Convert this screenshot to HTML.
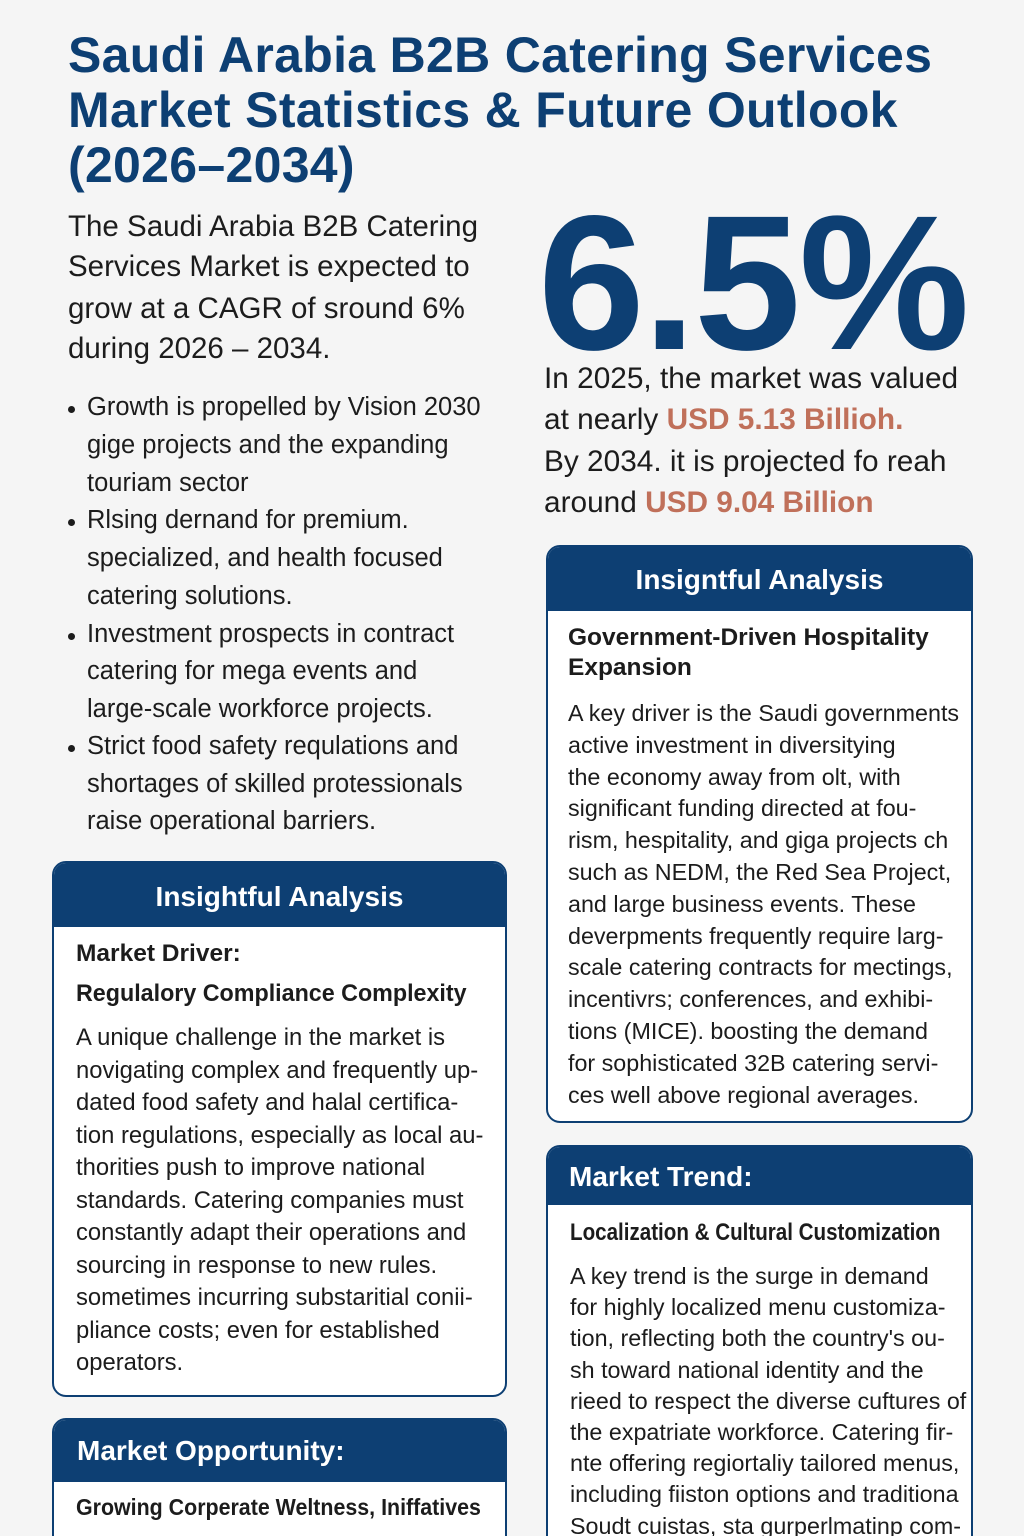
<!DOCTYPE html>
<html><head><meta charset="utf-8"><style>
*{margin:0;padding:0;box-sizing:border-box}
html,body{width:1024px;height:1536px;overflow:hidden;background:#f5f5f5}
#w{position:relative;width:1024px;height:1536px;overflow:hidden;background:#f5f5f5;font-family:"Liberation Sans",sans-serif;color:#1c1c1c}
.a{position:absolute;white-space:nowrap}
.t{color:#0d3f73;font-weight:bold;font-size:50px;left:68px;letter-spacing:0.3px}
.p{font-size:29.5px;left:68px}
.b{font-size:25.5px;left:87px}
.dot{position:absolute;width:7px;height:7px;border-radius:50%;background:#1c1c1c;left:68px}
.r{font-size:29.8px;left:544px}
.hl{color:#c0705a;font-weight:bold}
.box{position:absolute;border:2px solid #0d3f73;border-radius:14px;background:#fff;overflow:hidden}
.hd{background:#0d3f73;color:#fff;font-weight:bold;font-size:28px;position:absolute;left:0;right:0;top:0}
.s{font-size:24.5px;font-weight:bold}
.x{font-size:23.3px}
</style></head><body><div id="w">
<div class="a t" style="top:26px">Saudi Arabia B2B Catering Services</div>
<div class="a t" style="top:81px">Market Statistics &amp; Future Outlook</div>
<div class="a t" style="top:136px">(2026–2034)</div>

<div class="a p" style="top:210px">The Saudi Arabia B2B Catering</div>
<div class="a p" style="top:250px">Services Market is expected to</div>
<div class="a p" style="top:292px">grow at a CAGR of sround 6%</div>
<div class="a p" style="top:332px">during 2026 – 2034.</div>

<div class="dot" style="top:406px"></div><div class="a b" style="top:393px">Growth is propelled by Vision 2030</div>
<div class="a b" style="top:431px">gige projects and the expanding</div>
<div class="a b" style="top:469px">touriam sector</div>
<div class="dot" style="top:519px"></div><div class="a b" style="top:506px">Rlsing dernand for premium.</div>
<div class="a b" style="top:544px">specialized, and health focused</div>
<div class="a b" style="top:582px">catering solutions.</div>
<div class="dot" style="top:633px"></div><div class="a b" style="top:620px">Investment prospects in contract</div>
<div class="a b" style="top:657px">catering for mega events and</div>
<div class="a b" style="top:695px">large-scale workforce projects.</div>
<div class="dot" style="top:745px"></div><div class="a b" style="top:732px">Strict food safety requlations and</div>
<div class="a b" style="top:770px">shortages of skilled protessionals</div>
<div class="a b" style="top:807px">raise operational barriers.</div>

<div class="a" style="left:538px;top:172px;font-size:192px;font-weight:bold;color:#0d3f73;letter-spacing:-2px">6.5%</div>
<div class="a r" style="top:362px">In 2025, the market was valued</div>
<div class="a r" style="top:403px">at nearly <span class="hl">USD 5.13 Billioh.</span></div>
<div class="a r" style="top:445px">By 2034. it is projected fo reah</div>
<div class="a r" style="top:486px">around <span class="hl">USD 9.04 Billion</span></div>

<div class="box" style="left:546px;top:545px;width:427px;height:578px">
<div class="hd" style="height:64px;line-height:66px;text-align:center">Insigntful Analysis</div>
<div class="a s" style="left:20px;top:77px">Government-Driven Hospitality</div>
<div class="a s" style="left:20px;top:107px">Expansion</div>
<div class="a x" style="left:20px;top:151px;line-height:31.8px">A key driver is the Saudi governments<br>active investment in diversitying<br>the economy away from olt, with<br>significant funding directed at fou-<br>rism, hespitality, and giga projects ch<br>such as NEDM, the Red Sea Project,<br>and large business events. These<br>deverpments frequently require larg-<br>scale catering contracts for mectings,<br>incentivrs; conferences, and exhibi-<br>tions (MICE). boosting the demand<br>for sophisticated 32B catering servi-<br>ces well above regional averages.</div>
</div>

<div class="box" style="left:52px;top:861px;width:455px;height:536px">
<div class="hd" style="height:64px;line-height:68px;text-align:center">Insightful Analysis</div>
<div class="a s" style="left:22px;top:77px">Market Driver:</div>
<div class="a s" style="left:22px;top:117px;transform:scaleX(0.95);transform-origin:left">Regulalory Compliance Complexity</div>
<div class="a x" style="left:22px;top:159px;line-height:32.5px;font-size:23.8px">A unique challenge in the market is<br>novigating complex and frequently up-<br>dated food safety and halal certifica-<br>tion regulations, especially as local au-<br>thorities push to improve national<br>standards. Catering companies must<br>constantly adapt their operations and<br>sourcing in response to new rules.<br>sometimes incurring substaritial conii-<br>pliance costs; even for established<br>operators.</div>
</div>

<div class="box" style="left:52px;top:1418px;width:455px;height:160px">
<div class="hd" style="height:62px;line-height:62px;padding-left:23px">Market Opportunity:</div>
<div class="a s" style="left:22px;top:74px;font-size:23px;transform:scaleX(0.93);transform-origin:left">Growing Corperate Weltness, Iniffatives</div>
</div>

<div class="box" style="left:546px;top:1145px;width:427px;height:430px">
<div class="hd" style="height:58px;line-height:60px;padding-left:21px">Market Trend:</div>
<div class="a s" style="left:22px;top:72px;transform:scaleX(0.84);transform-origin:left">Localization &amp; Cultural Customization</div>
<div class="a x" style="left:22px;top:114px;line-height:31.2px">A key trend is the surge in demand<br>for highly localized menu customiza-<br>tion, reflecting both the country's ou-<br>sh toward national identity and the<br>rieed to respect the diverse cuftures of<br>the expatriate workforce. Catering fir-<br>nte offering regiortaliy tailored menus,<br>including fiiston options and traditiona<br>Soudt cuistas, sta gurperlmatinp com-</div>
</div>
</div></body></html>
